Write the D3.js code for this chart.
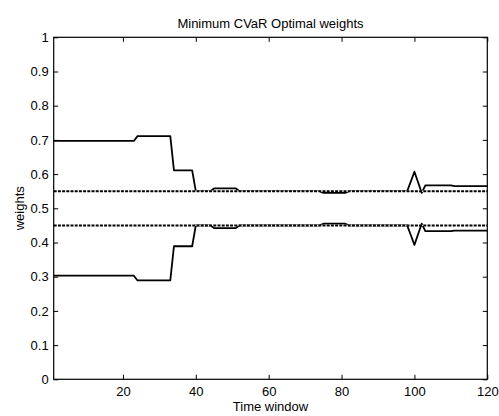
<!DOCTYPE html>
<html>
<head>
<meta charset="utf-8">
<script src="https://cdn.jsdelivr.net/npm/d3@7"></script>
<style>
    html, body { margin: 0; padding: 0; background: #fff; }
    svg { display: block; }
    text { font-family: "Liberation Sans", Arial, Helvetica, sans-serif; fill: #000; }
</style>
</head>
<body>
<div id="chart"></div>
<script>
'use strict';

// time window at each breakpoint of the weight paths (linear in between)
var windowIdx = [1, 23, 24, 33, 34, 39, 40, 44, 45, 51, 52, 74, 75, 81, 82, 98, 99, 100, 101, 102, 103, 110, 111, 120];
var weightA = [0.697, 0.697, 0.711, 0.711, 0.611, 0.611, 0.55, 0.55, 0.558, 0.558, 0.55, 0.55, 0.545, 0.545, 0.55, 0.55, 0.578, 0.607, 0.576, 0.545, 0.567, 0.567, 0.565, 0.565];
var weightB = [0.303, 0.303, 0.289, 0.289, 0.389, 0.389, 0.45, 0.45, 0.442, 0.442, 0.45, 0.45, 0.455, 0.455, 0.45, 0.45, 0.422, 0.393, 0.424, 0.455, 0.433, 0.433, 0.435, 0.435];

// dash-dot reference levels
var refLevels = [0.55, 0.45];

var xTicks = [20, 40, 60, 80, 100, 120];
var yTicks = [0, 0.1, 0.2, 0.3, 0.4, 0.5, 0.6, 0.7, 0.8, 0.9, 1];

var titleText = 'Minimum CVaR Optimal weights';
var xLabelText = 'Time window';
var yLabelText = 'weights';

var width = 499, height = 416;
var margin = {top: 37.3, right: 11.7, bottom: 36.7, left: 53.7};
var innerW = width - margin.left - margin.right;
var innerH = height - margin.top - margin.bottom;

var svg = d3.select('#chart').append('svg')
    .attr('width', width)
    .attr('height', height);

var g = svg.append('g')
    .attr('transform', 'translate(' + margin.left + ',' + margin.top + ')');

var x = d3.scaleLinear().domain([1, 120]).range([0, innerW]);
var y = d3.scaleLinear().domain([0, 1]).range([innerH, 0]);

var line = d3.line()
    .x(function (d) { return x(d[0]); })
    .y(function (d) { return y(d[1]); });

function pairs(values) {
    return windowIdx.map(function (t, i) { return [t, values[i]]; });
}

// solid weight paths
[weightA, weightB].forEach(function (w) {
    g.append('path')
        .datum(pairs(w))
        .attr('fill', 'none')
        .attr('stroke', '#000')
        .attr('stroke-width', 1.8)
        .attr('stroke-linejoin', 'round')
        .attr('d', line);
});

// dash-dot levels drawn over a thin white underlay
refLevels.forEach(function (v) {
    var pts = [[1, v], [120, v]];
    g.append('path')
        .datum(pts)
        .attr('fill', 'none')
        .attr('stroke', '#fff')
        .attr('stroke-width', 1.4)
        .attr('d', line);
    g.append('path')
        .datum(pts)
        .attr('fill', 'none')
        .attr('stroke', '#000')
        .attr('stroke-width', 2)
        .attr('stroke-dasharray', '3,1.2')
        .attr('d', line);
});

// axes, MATLAB style: inward ticks on all four sides
var tickLen = 4.5;
var fontSize = '13px';

var xAxisB = d3.axisBottom(x).tickValues(xTicks).tickSize(-tickLen).tickPadding(7);
var xAxisT = d3.axisTop(x).tickValues(xTicks).tickSize(-tickLen).tickFormat('');
var yAxisL = d3.axisLeft(y).tickValues(yTicks).tickSize(-tickLen).tickPadding(5).tickFormat(d3.format('~g'));
var yAxisR = d3.axisRight(y).tickValues(yTicks).tickSize(-tickLen).tickFormat('');

function styleAxis(sel) {
    sel.select('.domain').remove();
    sel.selectAll('.tick line').attr('stroke', '#000').attr('stroke-width', 1);
    sel.selectAll('.tick text').style('font-size', fontSize).attr('fill', '#000');
}

g.append('g').attr('transform', 'translate(0,' + innerH + ')').call(xAxisB).call(styleAxis);
g.append('g').call(xAxisT).call(styleAxis);
g.append('g').call(yAxisL).call(styleAxis);
g.append('g').attr('transform', 'translate(' + innerW + ',0)').call(yAxisR).call(styleAxis);

// box
g.append('rect')
    .attr('width', innerW)
    .attr('height', innerH)
    .attr('fill', 'none')
    .attr('stroke', '#000')
    .attr('stroke-width', 1.2);

svg.append('text')
    .attr('x', margin.left + innerW / 2)
    .attr('y', 28)
    .attr('text-anchor', 'middle')
    .style('font-size', fontSize)
    .text(titleText);

svg.append('text')
    .attr('x', margin.left + innerW / 2)
    .attr('y', 410.5)
    .attr('text-anchor', 'middle')
    .style('font-size', fontSize)
    .text(xLabelText);

svg.append('text')
    .attr('transform', 'translate(24,' + (margin.top + innerH / 2) + ') rotate(-90)')
    .attr('text-anchor', 'middle')
    .style('font-size', fontSize)
    .text(yLabelText);
</script>
</body>
</html>
